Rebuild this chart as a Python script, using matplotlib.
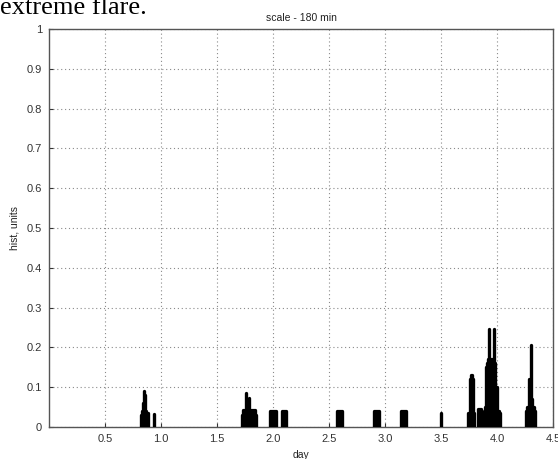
import matplotlib
matplotlib.use("Agg")
import matplotlib.pyplot as plt

# histogram bins (day) and values, bin width ~0.01 day
day = [0.82, 0.83, 0.84, 0.85, 0.86, 0.87, 0.88, 0.94,
       1.72, 1.73, 1.74, 1.75, 1.76, 1.77, 1.78, 1.79, 1.80, 1.81, 1.82, 1.83, 1.84, 1.85,
       1.97, 1.98, 1.99, 2.00, 2.01, 2.02, 2.03,
       2.08, 2.09, 2.10, 2.11, 2.12,
       2.57, 2.58, 2.59, 2.60, 2.61, 2.62,
       2.90, 2.91, 2.92, 2.93, 2.94, 2.95,
       3.14, 3.15, 3.16, 3.17, 3.18, 3.19,
       3.50,
       3.745, 3.755, 3.765, 3.775, 3.785, 3.795,
       3.83, 3.84, 3.85, 3.86,
       3.88, 3.89, 3.90, 3.91, 3.92, 3.93, 3.94, 3.95, 3.96, 3.97, 3.98, 3.99,
       4.00, 4.01, 4.02, 4.03,
       4.26, 4.27, 4.28, 4.29, 4.30, 4.31, 4.32, 4.33, 4.34]
hist = [0.03, 0.04, 0.06, 0.09, 0.08, 0.04, 0.035, 0.033,
        0.03, 0.042, 0.042, 0.042, 0.085, 0.07, 0.042, 0.072, 0.042, 0.042, 0.042, 0.042, 0.042, 0.03,
        0.04, 0.04, 0.04, 0.04, 0.04, 0.04, 0.04,
        0.04, 0.04, 0.04, 0.04, 0.04,
        0.04, 0.04, 0.04, 0.04, 0.04, 0.04,
        0.04, 0.04, 0.04, 0.04, 0.04, 0.04,
        0.04, 0.04, 0.04, 0.04, 0.04, 0.04,
        0.036,
        0.035, 0.12, 0.13, 0.13, 0.12, 0.035,
        0.045, 0.045, 0.045, 0.045,
        0.04, 0.05, 0.15, 0.16, 0.17, 0.245, 0.17, 0.17, 0.17, 0.245, 0.16, 0.10,
        0.10, 0.04, 0.04, 0.035,
        0.04, 0.05, 0.05, 0.12, 0.205, 0.07, 0.05, 0.05, 0.04]

xticks = [0.5, 1.0, 1.5, 2.0, 2.5, 3.0, 3.5, 4.0, 4.5]
xticklabels = ["0.5", "1.0", "1.5", "2.0", "2.5", "3.0", "3.5", "4.0", "4.5"]
yticks = [0, 0.1, 0.2, 0.3, 0.4, 0.5, 0.6, 0.7, 0.8, 0.9, 1]
yticklabels = ["0", "0.1", "0.2", "0.3", "0.4", "0.5", "0.6", "0.7", "0.8", "0.9", "1"]

plt.rcParams['font.family'] = ['Liberation Sans', 'DejaVu Sans']

fig = plt.figure(figsize=(5.58, 4.59), dpi=100)
ax = fig.add_axes([0.0878, 0.0697, 0.9032, 0.8671])

# thick lines with round caps, like the original
ax.vlines(day, 0, hist, colors='black', linewidth=2.4, capstyle='round', zorder=3)

ax.set_xlim(0, 4.5)
ax.set_ylim(0, 1)
ax.set_xticks(xticks)
ax.set_xticklabels(xticklabels)
ax.set_yticks(yticks)
ax.set_yticklabels(yticklabels)
ax.grid(True, linestyle=(0, (1, 2.5)), color='#8a8a8a', linewidth=0.8)
ax.tick_params(direction='in', length=3, labelsize=8, colors='#333333', pad=5)
for s in ax.spines.values():
    s.set_color('#555555')
    s.set_linewidth(1.0)

ax.set_title("scale - 180 min", fontsize=7.5, color='#222222', pad=6)
ax.set_xlabel("day", fontsize=7.5, color='#222222', labelpad=4)
ax.set_ylabel("hist, units", fontsize=7.5, color='#222222', labelpad=5)

# cut-off line of text from the page above the figure
fig.text(0.0, 1 - 14 / 459, "extreme flare.", family=['Liberation Serif'],
         fontsize=19, va='baseline', ha='left', color='black')

fig.savefig("out.png", dpi=100)
